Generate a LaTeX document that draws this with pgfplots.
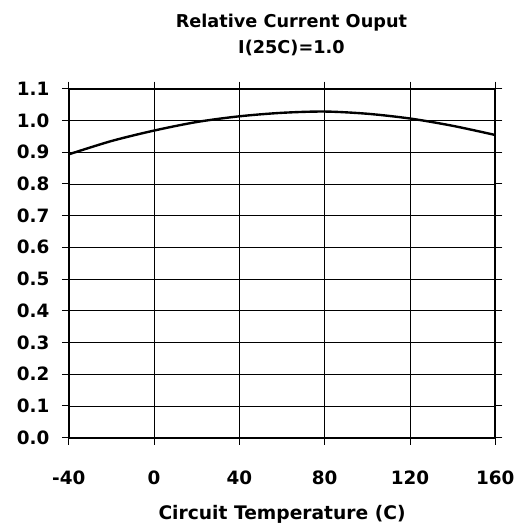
\documentclass[border=0pt]{standalone}
\usepackage{fontspec}
\setmainfont{DejaVu Sans}
\usepackage{pgfplots}
\pgfplotsset{compat=1.18}
\begin{document}
\begin{tikzpicture}
\begin{axis}[
  scale only axis,
  width=428bp, height=350bp,
  xmin=-40, xmax=160, ymin=0, ymax=1.1,
  xtick={-40,0,40,80,120,160},
  ytick={0,0.1,...,1.1},
  /pgf/number format/assume math mode=true,
  yticklabel={\pgfmathprintnumber[fixed,fixed zerofill,precision=1]{\tick}},
  xticklabel={\pgfmathprintnumber{\tick}},
  tick label style={font=\fontsize{18.5}{22}\selectfont\bfseries},
  xticklabel style={yshift=-23bp},
  yticklabel style={xshift=-9bp},
  tick align=outside,
  major tick length=7bp,
  tick style={black, line width=0.8pt},
  axis line style={line width=2pt},
  grid=major,
  grid style={black, line width=0.6pt},
  xlabel={Circuit Temperature (C)},
  xlabel style={font=\fontsize{18.8}{22}\selectfont\bfseries, yshift=-14bp},
  clip=false,
]
\addplot[black, line width=2.4pt, smooth] coordinates {
(-40,0.893) (-20,0.935) (0,0.968) (20,0.995) (40,1.013) (60,1.024) (80,1.028) (100,1.021) (120,1.006) (140,0.983) (160,0.954)
};
\node[font=\fontsize{17.8}{21}\selectfont\bfseries, align=center] at (rel axis cs:0.522,1.155) {Relative Current Ouput\\[5bp]I(25C)=1.0};
\path (rel axis cs:-0.1612,1.2543) rectangle (rel axis cs:1.0631,-0.2514);
\end{axis}
\end{tikzpicture}
\end{document}
